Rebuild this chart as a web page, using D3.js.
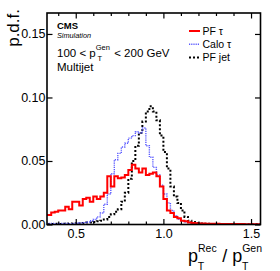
<!DOCTYPE html>
<html><head><meta charset="utf-8">
<script src="https://cdn.jsdelivr.net/npm/d3@7/dist/d3.min.js"></script>
<style>
html,body{margin:0;padding:0;background:#fff;}
svg text{font-family:"Liberation Sans",Arial,Helvetica,sans-serif;fill:#000;}
</style></head>
<body><svg id="c" width="280" height="271"></svg>
<script>
// Bin lower edges: 0.32 .. 1.54 in steps of 0.02 (62 bins)
const binStart = 0.32, binWidth = 0.02;
const pfTau = [0.0075,0.0075,0.0095,0.010,0.011,0.011,0.014,0.012,0.018,0.018,
  0.015,0.020,0.021,0.018,0.022,0.020,0.022,0.025,0.038,0.030,
  0.038,0.0365,0.037,0.039,0.043,0.047,0.044,0.041,0.044,0.039,
  0.040,0.041,0.038,0.030,0.020,0.011,0.009,0.006,0.005,0.003,
  0.0025,0.0015,0.0012,0.001,0.0008,0.0008,0.0006,0.0006,0.0005,0.0005,
  0.0004,0.0004,0.0004,0.0003,0.0003,0.0003,0.0003,0.0002,0.0002,0.0002,0.0002,0.0002];
const caloTau = [0.0008,0.0008,0.0008,0.0005,0.0008,0.0005,0.0008,0.0006,0.0008,0.001,
  0.0012,0.0015,0.002,0.003,0.004,0.006,0.009,0.016,0.024,0.040,
  0.051,0.056,0.061,0.064,0.068,0.070,0.073,0.072,0.076,0.062,
  0.053,0.045,0.039,0.031,0.024,0.017,0.011,0.007,0.004,0.003,
  0.002,0.0015,0.001,0.0008,0.0005,0.0005,0.0004,0.0003,0.0003,0.0002,
  0.0002,0.0002,0.0001,0.0001,0.0001,0.0001,0.0001,0.0001,0.0001,0.0001,0.0001,0.0001];
const pfJet = [0.0003,0.0004,0.0003,0.0005,0.0004,0.0006,0.0005,0.0007,0.0008,0.001,
  0.001,0.0012,0.0015,0.0015,0.002,0.0025,0.003,0.004,0.006,0.008,
  0.010,0.012,0.018,0.025,0.036,0.050,0.062,0.072,0.081,0.089,
  0.093,0.089,0.082,0.070,0.057,0.044,0.030,0.022,0.017,0.011,
  0.006,0.003,0.002,0.0012,0.0008,0.0006,0.0005,0.0004,0.0003,0.0003,
  0.0002,0.0002,0.0002,0.0001,0.0001,0.0001,0.0001,0.0001,0.0001,0.0001,0.0001,0.0001];
const xMajorTicks = [0.5, 1.0, 1.5];
const xMinorTicks = [0.4,0.6,0.7,0.8,0.9,1.1,1.2,1.3,1.4];
const yTicks = [0.00, 0.05, 0.10, 0.15];
const seriesNames = ["PF τ", "Calo τ", "PF jet"];

const svg = d3.select("#c");
const L = 47, R = 260.5, T = 13, B = 224.5;
const x = d3.scaleLinear().domain([0.336, 1.554]).range([L, R]);
const y = d3.scaleLinear().domain([0, 0.1665]).range([B, T]);

svg.append("clipPath").attr("id","clip").append("rect")
  .attr("x", L).attr("y", T).attr("width", R-L).attr("height", B-T);

function pts(vals){
  const p = vals.map((v,i)=>[binStart + i*binWidth, v]);
  p.push([binStart + vals.length*binWidth, vals[vals.length-1]]);
  return p;
}
const line = d3.line().x(d=>x(d[0])).y(d=>y(d[1])).curve(d3.curveStepAfter);
const g = svg.append("g").attr("clip-path","url(#clip)");
g.append("path").attr("d", line(pts(pfJet))).attr("fill","none")
  .attr("stroke","#000").attr("stroke-width",2).attr("stroke-dasharray","2,2");
g.append("path").attr("d", line(pts(caloTau))).attr("fill","none")
  .attr("stroke","#5a5aff").attr("stroke-width",1.4).attr("stroke-dasharray","1.2,1");
g.append("path").attr("d", line(pts(pfTau))).attr("fill","none")
  .attr("stroke","#ff0000").attr("stroke-width",2);

// frame
svg.append("rect").attr("x",L).attr("y",T).attr("width",R-L).attr("height",B-T)
  .attr("fill","none").attr("stroke","#000").attr("stroke-width",1.6);

// x axis ticks (inward), bottom and top
const xb = d3.axisBottom(x).tickValues(xMajorTicks).tickSize(-5.5).tickFormat(d3.format(".1f"));
const gxb = svg.append("g").attr("transform",`translate(0,${B})`).call(xb);
gxb.select(".domain").remove();
gxb.selectAll("text").attr("font-size","12.5px").attr("dy","0").attr("y",13);
const xbm = d3.axisBottom(x).tickValues(xMinorTicks).tickSize(-3).tickFormat("");
svg.append("g").attr("transform",`translate(0,${B})`).call(xbm).select(".domain").remove();
const xt = d3.axisTop(x).tickValues(xMajorTicks).tickSize(-5.5).tickFormat("");
svg.append("g").attr("transform",`translate(0,${T})`).call(xt).select(".domain").remove();
const xtm = d3.axisTop(x).tickValues(xMinorTicks).tickSize(-3).tickFormat("");
svg.append("g").attr("transform",`translate(0,${T})`).call(xtm).select(".domain").remove();

// y axis
const yl = d3.axisLeft(y).tickValues(yTicks).tickSize(-5.5).tickFormat(d3.format(".2f"));
const gyl = svg.append("g").attr("transform",`translate(${L},0)`).call(yl);
gyl.select(".domain").remove();
gyl.selectAll("text").attr("font-size","12.5px").attr("x",-1.5);
const yr = d3.axisRight(y).tickValues(yTicks).tickSize(-5.5).tickFormat("");
svg.append("g").attr("transform",`translate(${R},0)`).call(yr).select(".domain").remove();
svg.selectAll(".tick line").attr("stroke","#000").attr("stroke-width",1.2);
svg.selectAll(".tick text").attr("font-family",'"Liberation Sans",Arial,sans-serif');

// axis titles
svg.append("text").attr("transform","translate(18.5,9) rotate(-90)")
  .attr("text-anchor","end").attr("font-size","17px").text("p.d.f.");
const xtitle = svg.append("text").attr("x",262).attr("y",262).attr("text-anchor","end").attr("font-size","18px");
xtitle.append("tspan").text("p");
xtitle.append("tspan").attr("font-size","10.5px").attr("dy",-10).text("Rec");
xtitle.append("tspan").attr("font-size","10.5px").attr("dy",17.5).attr("dx",-19).text("T");
xtitle.append("tspan").attr("dy",-7.5).attr("dx",13).text(" / p");
xtitle.append("tspan").attr("font-size","10.5px").attr("dy",-10).text("Gen");
xtitle.append("tspan").attr("font-size","10.5px").attr("dy",17.5).attr("dx",-20).text("T");

// labels
svg.append("text").attr("x",57).attr("y",28.5).attr("font-size","9.5px").attr("font-weight","bold").text("CMS");
svg.append("text").attr("x",57).attr("y",37.5).attr("font-size","7.3px").attr("font-style","italic").text("Simulation");
const t2 = svg.append("text").attr("x",57).attr("y",57).attr("font-size","11.5px");
t2.append("tspan").text("100 < p");
t2.append("tspan").attr("font-size","7.5px").attr("dy",-7).text("Gen");
t2.append("tspan").attr("font-size","7.5px").attr("dy",11).attr("dx",-12.5).text("T");
t2.append("tspan").attr("dy",-4).attr("dx",9).text(" < 200 GeV");
svg.append("text").attr("x",57).attr("y",71).attr("font-size","11.5px").text("Multijet");

// legend
const legColors = ["#ff0000","#5a5aff","#000"];
const legDash = [null,"1.2,1","2,2"];
const legW = [2,1.4,2];
seriesNames.forEach((n,i)=>{
  const yy = 31 + i*13.2;
  svg.append("line").attr("x1",189).attr("x2",200).attr("y1",yy).attr("y2",yy)
    .attr("stroke",legColors[i]).attr("stroke-width",legW[i]).attr("stroke-dasharray",legDash[i]);
  svg.append("text").attr("x",202.5).attr("y",yy+3.8).attr("font-size","10.5px").text(n);
});
</script></body></html>
